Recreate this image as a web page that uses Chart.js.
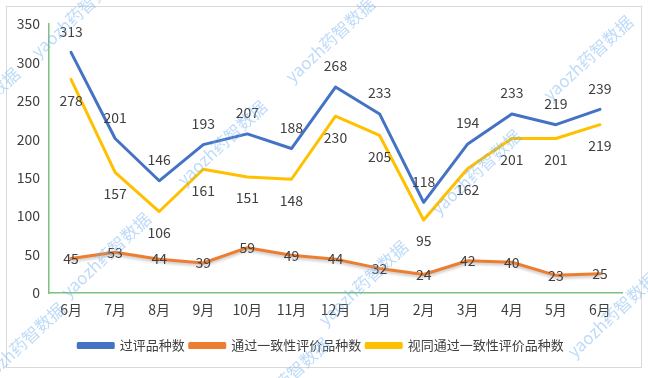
<!DOCTYPE html>
<html>
<head>
<meta charset="utf-8">
<script src="https://cdn.jsdelivr.net/npm/chart.js@4.4.1/dist/chart.umd.min.js"></script>
<style>
html,body{margin:0;padding:0;background:#fff;}
#wrap{width:648px;height:378px;position:relative;}
</style>
</head>
<body>
<div id="wrap"><canvas id="c" width="648" height="378"></canvas></div>
<script>
const categories = ['6月','7月','8月','9月','10月','11月','12月','1月','2月','3月','4月','5月','6月'];
const seriesNames = ['过评品种数','通过一致性评价品种数','视同通过一致性评价品种数'];
const approved = [313, 201, 146, 193, 207, 188, 268, 233, 118, 194, 233, 219, 239];
const passedConsistency = [45, 53, 44, 39, 59, 49, 44, 32, 24, 42, 40, 23, 25];
const deemedPassed = [278, 157, 106, 161, 151, 148, 230, 205, 95, 162, 201, 201, 219];
const yTicks = [0, 50, 100, 150, 200, 250, 300, 350];
const watermarkText = 'yaozh药智数据';

const FONT = '"Noto Sans CJK SC", "Noto Sans", sans-serif';
const TXT = '#404040';
const colors = ['#4472C4', '#ED7D31', '#FFC000'];
const labelOffsets = [-21, 0, 21];

const bgPlugin = {
  id: 'bg',
  beforeDraw(chart) {
    const ctx = chart.ctx;
    ctx.save();
    ctx.fillStyle = '#fff';
    ctx.fillRect(0, 0, chart.width, chart.height);
    ctx.strokeStyle = '#d9d9d9';
    ctx.lineWidth = 1;
    ctx.strokeRect(6.5, 6.5, 635, 361);
    ctx.restore();
  }
};

const legendShift = {
  id: 'legendShift',
  afterLayout(chart) {
    if (chart.legend) {
      chart.legend.left += 10;
      chart.legend.right += 10;
    }
  }
};

const shadowPlugin = {
  id: 'shadow',
  beforeDatasetDraw(chart, args) {
    if (args.index === 1) {
      const ctx = chart.ctx;
      ctx.save();
      ctx.shadowColor = 'rgba(0,0,0,0.22)';
      ctx.shadowBlur = 3;
      ctx.shadowOffsetY = 2;
    }
  },
  afterDatasetDraw(chart, args) {
    if (args.index === 1) chart.ctx.restore();
  }
};

const labelPlugin = {
  id: 'labels',
  afterDatasetsDraw(chart) {
    const ctx = chart.ctx;
    ctx.save();
    ctx.font = '14px ' + FONT;
    ctx.fillStyle = TXT;
    ctx.textAlign = 'center';
    ctx.textBaseline = 'middle';
    chart.data.datasets.forEach((ds, i) => {
      const meta = chart.getDatasetMeta(i);
      meta.data.forEach((pt, j) => {
        ctx.fillText(String(ds.data[j]), pt.x, pt.y + labelOffsets[i]);
      });
    });
    ctx.restore();
  }
};

const watermarks = [
  [76, 15], [330, 40], [588, 58], [222, 143], [-25, 110], [476, 172],
  [106, 255], [363, 283], [612, 315], [20, 345], [285, 380]
];
const wmPlugin = {
  id: 'wm',
  afterDraw(chart) {
    const ctx = chart.ctx;
    ctx.save();
    ctx.font = '17px ' + FONT;
    ctx.textAlign = 'center';
    ctx.textBaseline = 'middle';
    watermarks.forEach(([x, y]) => {
      ctx.save();
      ctx.translate(x, y);
      ctx.rotate(-43 * Math.PI / 180);
      ctx.fillStyle = 'rgba(110,175,240,0.45)';
      ctx.fillText(watermarkText, 0, 0);
      ctx.restore();
    });
    ctx.restore();
  }
};

new Chart(document.getElementById('c'), {
  type: 'line',
  data: {
    labels: categories,
    datasets: [approved, passedConsistency, deemedPassed].map((d, i) => ({
      label: seriesNames[i],
      data: d,
      borderColor: colors[i],
      backgroundColor: colors[i],
      borderWidth: 3,
      pointRadius: 0,
      tension: 0,
      borderJoinStyle: 'round',
      borderCapStyle: 'round'
    }))
  },
  options: {
    responsive: false,
    animation: false,
    devicePixelRatio: 1,
    layout: { padding: { top: 24, left: 0, right: 26, bottom: 16 } },
    plugins: {
      legend: {
        position: 'bottom',
        labels: {
          font: { family: FONT, size: 13 },
          color: TXT,
          boxWidth: 35,
          boxHeight: 4,
          padding: 5
        }
      },
      tooltip: { enabled: false }
    },
    scales: {
      x: {
        offset: true,
        grid: { display: false, drawTicks: false, offset: true },
        border: { display: true, color: '#7fbf7f', width: 1.5 },
        ticks: { font: { family: FONT, size: 14 }, color: TXT, padding: 8, maxRotation: 0 },
        afterFit(s) { s.height = 41; }
      },
      y: {
        min: 0, max: 350,
        grid: { display: false, drawTicks: false },
        border: { display: true, color: '#7fbf7f', width: 1.5 },
        ticks: {
          font: { family: FONT, size: 14 }, color: TXT, padding: 9,
          stepSize: 50,
          callback: (v) => yTicks.includes(v) ? String(v) : ''
        },
        afterFit(s) { s.width = 49; }
      }
    }
  },
  plugins: [bgPlugin, legendShift, shadowPlugin, labelPlugin, wmPlugin]
});
</script>
</body>
</html>
